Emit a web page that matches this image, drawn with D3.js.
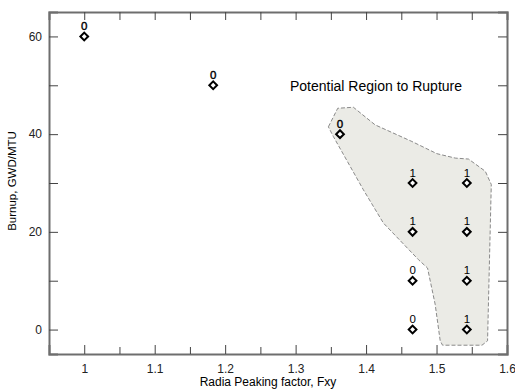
<!DOCTYPE html>
<html>
<head>
<meta charset="utf-8">
<script src="https://cdn.jsdelivr.net/npm/d3@7"></script>
<style>
  body { margin: 0; background: #fff; }
  text { font-family: "Liberation Sans", Arial, sans-serif; }
</style>
</head>
<body>
<div id="chart"></div>
<script>
// measured points: peaking factor, burnup, rupture flag
let fxy    = [1.0, 1.183, 1.363, 1.466, 1.543, 1.466, 1.543, 1.466, 1.543, 1.466, 1.543]
let burnup = [60, 50, 40, 30, 30, 20, 20, 10, 10, 0, 0]
let flag   = ["0", "0", "0", "1", "1", "1", "1", "0", "1", "0", "1"]

// outline of the shaded region (data coords)
let regionX = [1.3465, 1.3598, 1.382, 1.4128, 1.465, 1.5005, 1.5265, 1.5454, 1.5692, 1.5777,
               1.5724, 1.5645, 1.5085, 1.5052, 1.498, 1.4872, 1.4744, 1.4246, 1.3962, 1.3536]
let regionY = [41.5, 45.3, 45.5, 41.9, 38.5, 36.0, 35.1, 34.9, 32.4, 29.7,
               -2.3, -3.2, -3.2, -2.3, 5.2, 12.6, 14.3, 21.8, 28.6, 39.5]

let xTicks = [1, 1.1, 1.2, 1.3, 1.4, 1.5, 1.6]
let yTicks = [0, 20, 40, 60]

let W = 515, H = 389
let margin = {top: 12, right: 8, bottom: 35, left: 49}

let svg = d3.select("#chart").append("svg")
  .attr("width", W).attr("height", H)

let x = d3.scaleLinear().domain([0.95, 1.6]).range([margin.left, W - margin.right])
let y = d3.scaleLinear().domain([-5, 65]).range([H - margin.bottom, margin.top])

// shaded region
let region = regionX.map((v, i) => [x(v), y(regionY[i])])
svg.append("path")
  .attr("d", d3.line().curve(d3.curveLinearClosed)(region))
  .style("fill", "#ebebe6")
  .style("stroke", "#8a8a8a")
  .style("stroke-width", 1)
  .style("stroke-dasharray", "4,2")

// axes, ticks inward
let minorX = d3.range(0, 13).map(i => 1 + i * 0.05).filter(v => v < 1.6)

let gB = svg.append("g").attr("transform", `translate(0,${H - margin.bottom})`)
  .call(d3.axisBottom(x).tickValues(xTicks).tickSize(-9).tickPadding(10).tickFormat(d3.format("")))
let gT = svg.append("g").attr("transform", `translate(0,${margin.top})`)
  .call(d3.axisTop(x).tickValues(minorX).tickSize(-8).tickFormat(""))
let gL = svg.append("g").attr("transform", `translate(${margin.left},0)`)
  .call(d3.axisLeft(y).tickValues(yTicks).tickSize(-9).tickPadding(7))
let gL2 = svg.append("g").attr("transform", `translate(${margin.left},0)`)
  .call(d3.axisLeft(y).tickValues([10, 30, 50]).tickSize(-9).tickFormat(""))
let gR = svg.append("g").attr("transform", `translate(${W - margin.right},0)`)
  .call(d3.axisRight(y).tickValues([0, 10, 20, 30, 40, 50, 60]).tickSize(-9).tickFormat(""))
let gB2 = svg.append("g").attr("transform", `translate(0,${H - margin.bottom})`)
  .call(d3.axisBottom(x).tickValues(minorX.filter(v => xTicks.indexOf(+v.toFixed(2)) < 0)).tickSize(-7).tickFormat(""))

;[gB, gT, gL, gL2, gR, gB2].forEach(g => {
  g.select(".domain").style("stroke", "#6e6e6e").style("stroke-width", 2)
  g.selectAll(".tick line").style("stroke", "#444")
  g.selectAll("text").style("font-size", "12px").style("fill", "#222")
})
gL2.select(".domain").remove()
gB2.select(".domain").remove()

// markers
let pts = fxy.map((v, i) => ({fx: v, bu: burnup[i], f: flag[i]}))
svg.selectAll("path.pt").data(pts).enter().append("path")
  .attr("class", "pt")
  .attr("d", d3.symbol(d3.symbolSquare, 30))
  .attr("transform", d => `translate(${x(d.fx)},${y(d.bu)}) rotate(45)`)
  .style("fill", "#fff").style("stroke", "#000").style("stroke-width", 2)

svg.selectAll("text.lab").data(pts).enter().append("text")
  .attr("class", "lab")
  .attr("x", d => x(d.fx))
  .attr("y", d => y(d.bu) - 6.5)
  .attr("text-anchor", "middle")
  .style("font-size", "11.5px")
  .style("fill", "#000")
  .style("stroke", (d, i) => i < 3 ? "#000" : "none")
  .style("stroke-width", 0.4)
  .text(d => d.f)

svg.append("text")
  .attr("x", 376).attr("y", 90.5)
  .attr("text-anchor", "middle")
  .style("font-size", "14px")
  .text("Potential Region to Rupture")

svg.append("text")
  .attr("x", 268).attr("y", 386)
  .attr("text-anchor", "middle")
  .style("font-size", "12px")
  .text("Radia Peaking factor, Fxy")

svg.append("text")
  .attr("transform", "translate(16,181) rotate(-90)")
  .attr("text-anchor", "middle")
  .style("font-size", "11.5px")
  .text("Burnup, GWD/MTU")
</script>
</body>
</html>
